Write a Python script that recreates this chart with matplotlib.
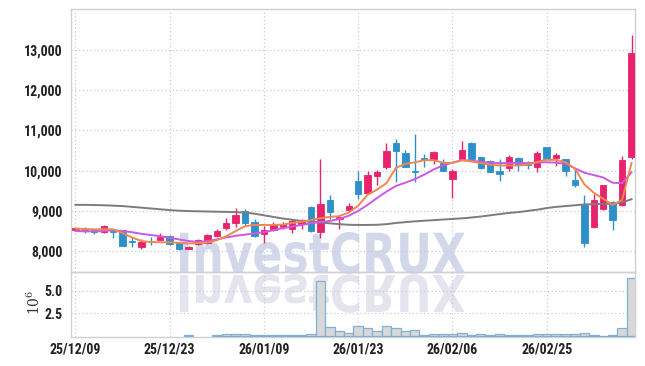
import matplotlib
matplotlib.use("Agg")
import matplotlib.pyplot as plt
from matplotlib import font_manager
from matplotlib.textpath import TextPath
from matplotlib.patches import PathPatch
from matplotlib.font_manager import FontProperties
from matplotlib.transforms import Affine2D

dates = ["25/12/09", "25/12/10", "25/12/11", "25/12/12", "25/12/15", "25/12/16", "25/12/17", "25/12/18",
         "25/12/19", "25/12/22", "25/12/23", "25/12/24", "25/12/26", "25/12/29", "25/12/30", "26/01/02",
         "26/01/05", "26/01/06", "26/01/07", "26/01/08", "26/01/09", "26/01/12", "26/01/13", "26/01/14",
         "26/01/15", "26/01/16", "26/01/19", "26/01/20", "26/01/21", "26/01/22", "26/01/23", "26/01/26",
         "26/01/27", "26/01/28", "26/01/29", "26/01/30", "26/02/02", "26/02/03", "26/02/04", "26/02/05",
         "26/02/06", "26/02/09", "26/02/10", "26/02/11", "26/02/12", "26/02/13", "26/02/19", "26/02/20",
         "26/02/23", "26/02/24", "26/02/25", "26/02/26", "26/02/27", "26/03/03", "26/03/04", "26/03/05",
         "26/03/06", "26/03/09", "26/03/10", "26/03/11"]

opens = [8530, 8560, 8530, 8480, 8500, 8520, 8250, 8100, 8240, 8280,
         8380, 8200, 8060, 8170, 8200, 8380, 8580, 8690, 9000, 8730,
         8420, 8520, 8600, 8550, 8670, 9100, 8480, 9280, 8800, 9020,
         9750, 9450, 9880, 10080, 10700, 10450, 9990, 10320, 10300, 10200,
         9800, 10300, 10680, 10330, 10230, 10000, 10070, 10320, 10200, 10090,
         10580, 10320, 10280, 9780, 9150, 8600, 9050, 9220, 9150, 10340]
highs = [8580, 8600, 8550, 8650, 8520, 8530, 8350, 8300, 8350, 8450,
         8400, 8220, 8130, 8290, 8420, 8550, 8820, 9070, 9050, 8800,
         8620, 8720, 8730, 8800, 8800, 9120, 10290, 9400, 8870, 9200,
         10000, 10000, 10020, 10700, 10780, 10520, 10920, 10420, 10500, 10290,
         10040, 10750, 10720, 10340, 10260, 10290, 10380, 10330, 10250, 10500,
         10600, 10450, 10300, 10040, 9400, 9420, 9650, 9240, 10360, 13380]
lows = [8520, 8450, 8430, 8450, 8330, 8130, 8100, 8050, 8150, 8270,
        8150, 8030, 8040, 8150, 8180, 8350, 8520, 8600, 8650, 8350,
        8200, 8500, 8550, 8450, 8550, 8480, 8320, 8800, 8540, 9000,
        9300, 9420, 9650, 10050, 9720, 10080, 9720, 10100, 10170, 9990,
        9320, 10280, 10280, 10040, 9960, 9750, 10000, 9980, 10040, 9970,
        10270, 10110, 9870, 9600, 8090, 8580, 9030, 8530, 9120, 10300]
closes = [8570, 8500, 8480, 8620, 8480, 8130, 8230, 8220, 8220, 8360,
          8180, 8050, 8110, 8270, 8400, 8500, 8700, 8900, 8690, 8380,
          8520, 8670, 8680, 8750, 8750, 8500, 9170, 8980, 8850, 9120,
          9420, 9900, 9960, 10480, 10500, 10100, 9970, 10260, 10460, 10000,
          9980, 10520, 10300, 10060, 9970, 9930, 10330, 10130, 10130, 10450,
          10280, 10380, 10000, 9650, 8210, 9280, 9650, 8780, 10270, 12920]

ma_short = [8560, 8550, 8540, 8545, 8540, 8450, 8340, 8250, 8225, 8220,
            8220, 8205, 8190, 8200, 8210, 8270, 8370, 8500, 8620, 8650,
            8650, 8650, 8660, 8700, 8730, 8770, 8820, 8850, 8870, 8960,
            9130, 9400, 9530, 9690, 10070, 10170, 10210, 10260, 10260, 10200,
            10190, 10260, 10230, 10190, 10150, 10130, 10130, 10130, 10150, 10220,
            10270, 10270, 10210, 10050, 9660, 9450, 9300, 9150, 9270, 10190]
ma_mid = [8500, 8490, 8490, 8500, 8520, 8500, 8470, 8430, 8400, 8370,
          8330, 8290, 8250, 8230, 8250, 8290, 8340, 8380, 8410, 8440,
          8470, 8520, 8570, 8610, 8650, 8690, 8730, 8750, 8800, 8880,
          9000, 9150, 9320, 9480, 9620, 9700, 9790, 9900, 10030, 10130,
          10200, 10260, 10250, 10220, 10200, 10190, 10190, 10190, 10190, 10200,
          10210, 10200, 10170, 10060, 9950, 9890, 9830, 9700, 9690, 9960]
ma_long = [9150, 9150, 9145, 9140, 9130, 9120, 9100, 9080, 9060, 9040,
           9020, 9005, 8995, 8990, 8985, 8980, 8975, 8970, 8960, 8930,
           8890, 8850, 8810, 8780, 8750, 8730, 8710, 8690, 8670, 8655,
           8650, 8650, 8655, 8670, 8700, 8720, 8740, 8755, 8770, 8785,
           8800, 8815, 8835, 8860, 8890, 8920, 8950, 8970, 9000, 9030,
           9070, 9100, 9120, 9140, 9160, 9170, 9175, 9180, 9210, 9290]

volumes_m = [0, 0, 0, 0, 0, 0, 0, 0, 0, 0,
             0, 0, 0.05, 0, 0, 0.05, 0.25, 0.25, 0.25, 0.15,
             0.05, 0.05, 0.05, 0.1, 0.15, 0.25, 6.1, 0.95, 0.5, 0.3,
             1.1, 0.85, 0.55, 1.1, 0.85, 0.55, 0.66, 0.1, 0.2, 0.2,
             0.2, 0.33, 0.1, 0.2, 0.1, 0.2, 0.1, 0.1, 0.1, 0.2,
             0.2, 0.2, 0.2, 0.2, 0.3, 0.15, 0.03, 0.1, 0.85, 6.35]

tick_labels = ["25/12/09", "25/12/23", "26/01/09", "26/01/23", "26/02/06", "26/02/25"]
price_ticks = [8000, 9000, 10000, 11000, 12000, 13000]
price_labels = ["8,000", "9,000", "10,000", "11,000", "12,000", "13,000"]
vol_ticks = [2.5, 5.0]
vol_labels = ["2.5", "5.0"]

UP = "#e8226c"
DOWN = "#2e90c8"
GRID = "#c9cbdd"
SPINE = "#cfcfd6"
TXT = "#222222"


def pick_font(cands):
    for c in cands:
        try:
            font_manager.findfont(FontProperties(family=c), fallback_to_default=False)
            return c
        except Exception:
            pass
    return None


narrow = pick_font(["Liberation Sans Narrow", "DejaVu Sans Condensed", "Roboto Condensed",
                    "Open Sans Condensed", "Noto Sans Condensed"])
if narrow:
    tick_font = dict(family=[narrow, "DejaVu Sans"], weight="bold", size=10)
else:
    tick_font = dict(family=["Roboto", "DejaVu Sans"], weight="bold", size=9.2)

W, H = 645, 366
fig = plt.figure(figsize=(W / 100, H / 100), dpi=100)
fig.patch.set_facecolor("white")

L, R = 71, 635.3
ax = fig.add_axes([L / W, 1 - 272 / H, (R - L) / W, (272 - 9) / H])
axv = fig.add_axes([L / W, 1 - 337 / H, (R - L) / W, (337 - 272) / H], sharex=ax)

# watermark with reflection
fp = FontProperties(family="DejaVu Sans", weight="bold")
tp = TextPath((0, 0), "InvestCRUX", size=100, prop=fp)
bb = tp.get_extents()
x0, x1 = 180, 465
base, top = H - 273, H - 232
sx = (x1 - x0) / bb.width
sy = (top - base) / bb.y1
tr = Affine2D().translate(-bb.x0, 0).scale(sx, sy).translate(x0, base)
fig.add_artist(PathPatch(tp, transform=tr, facecolor="#d2d7ea", edgecolor="none", zorder=-1))
tr2 = Affine2D().translate(-bb.x0, 0).scale(sx, -sy * 0.92).translate(x0, base - 2)
fig.add_artist(PathPatch(tp, transform=tr2, facecolor="#e3e4ee", edgecolor="none", zorder=-1))

xs = list(range(len(dates)))

# candles
for i in xs:
    o, h, l, c = opens[i], highs[i], lows[i], closes[i]
    col = UP if c >= o else DOWN
    ax.vlines(i, l, h, color=col, linewidth=1.0, zorder=3)
    bottom = min(o, c)
    height = max(abs(c - o), 25)
    ax.bar(i, height, width=0.68, bottom=bottom, color=col, edgecolor=col, linewidth=0.6, zorder=4)

ax.plot(xs, ma_long, color="#7c7c7c", linewidth=1.4, zorder=5)
ax.plot(xs, ma_mid, color="#cc58e6", linewidth=1.4, zorder=5)
ax.plot(xs, ma_short, color="#f0874f", linewidth=1.4, zorder=6)

# volume
vx = [i for i in xs if volumes_m[i] > 0]
vv = [volumes_m[i] for i in xs if volumes_m[i] > 0]
axv.bar(vx, vv, width=1.0, color="#d8d8d8", edgecolor="#7fb1d6", linewidth=0.9, zorder=3)

tick_pos = [dates.index(t) for t in tick_labels]
for a in (ax, axv):
    a.set_facecolor("none")
    a.set_xticks(tick_pos)
    a.grid(True, color=GRID, linestyle=(0, (1, 2)), linewidth=0.9)
    a.set_axisbelow(True)
    for s in a.spines.values():
        s.set_color(SPINE)
        s.set_linewidth(1.0)
    a.tick_params(length=0, colors=TXT, pad=6)

ax.set_xlim(-0.47, 59.4)
ax.set_ylim(7480, 14022)
ax.set_yticks(price_ticks)
ax.set_yticklabels(price_labels, fontdict=tick_font)
ax.tick_params(axis="x", labelbottom=False)

axv.set_ylim(-0.12, 7.04)
axv.set_yticks(vol_ticks)
axv.set_yticklabels(vol_labels, fontdict=tick_font)
axv.set_xticklabels(tick_labels, fontdict=tick_font)
axv.tick_params(axis="x", pad=4)
axv.set_ylabel(r"$10^{6}$", fontsize=10, color="#333333", math_fontfamily="dejavuserif")
axv.yaxis.set_label_coords((43 - L) / (R - L), 0.54)

fig.savefig("out.png", dpi=100, facecolor="white")
